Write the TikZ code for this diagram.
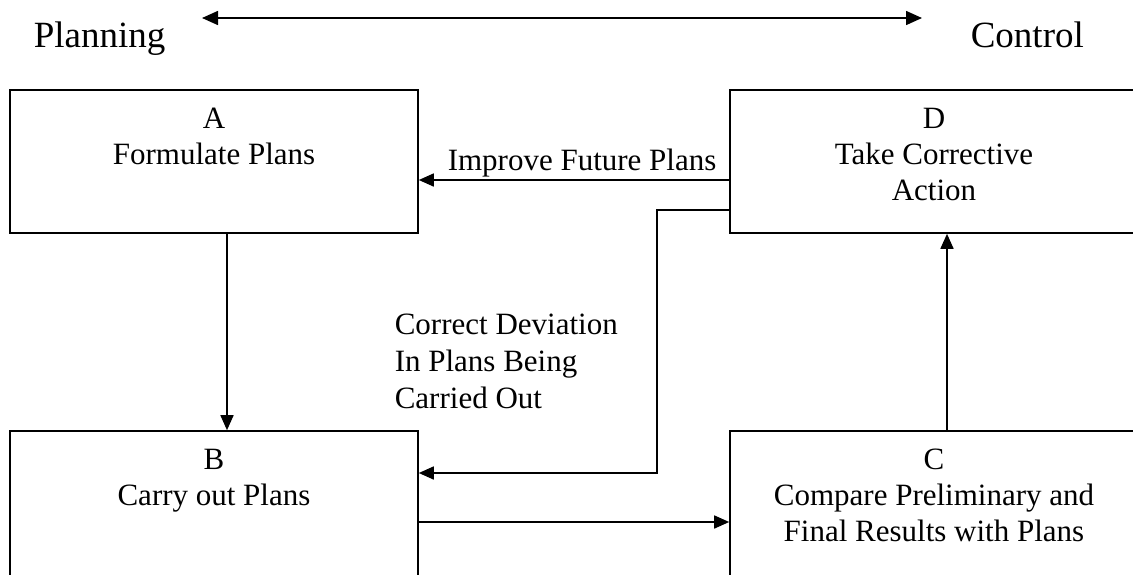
\documentclass[tikz,border=0pt]{standalone}
\usepackage{fontspec}
\setmainfont{Liberation Serif}
\usetikzlibrary{arrows.meta,positioning}

\begin{document}
\begin{tikzpicture}[x=1pt, y=-1pt, line width=1.6pt,
    box/.style={draw, minimum width=408pt, inner sep=0pt},
    boxtext/.style={align=center, inner sep=0pt, font=\fontsize{31}{36}\selectfont},
    head/.style={inner sep=0pt, anchor=base west, font=\fontsize{37}{44}\selectfont},
    arr/.style={-{Triangle[length=15pt, width=13pt]}}]
    \useasboundingbox (0, 0) rectangle (1133, 574);
    \clip (0, 0) rectangle (1133, 574);

    \node (plan) [head] at (33, 47) {Planning};
    \node (ctrl) [head] at (970, 47) {Control};
    \coordinate (left) at (202, 18);
    \coordinate (right) at (922, 18);
    \draw[{Triangle[length=16pt, width=14pt]}-{Triangle[length=16pt, width=14pt]}] (left) -- (right);

    \node (A) [box, minimum height=143pt] at (214, 161.5) {};
    \node (D) [box, minimum height=143pt] at (934, 161.5) {};
    \node (B) [box, minimum height=200pt] at (214, 531) {};
    \node (C) [box, minimum height=200pt] at (934, 531) {};

    \node (Atext) [boxtext, below=18pt of A.north] {A\\Formulate Plans};
    \node (Dtext) [boxtext, below=18pt of D.north] {D\\Take Corrective\\Action};
    \node (Btext) [boxtext, below=18pt of B.north] {B\\Carry out Plans};
    \node (Ctext) [boxtext, below=18pt of C.north] {C\\Compare Preliminary and\\Final Results with Plans};

    \draw[arr] ([xshift=13pt]A.south) -- ([xshift=13pt]B.north);
    \draw[arr] ([yshift=9pt]B.east) -- ([yshift=9pt]C.west);
    \draw[arr] ([xshift=13pt]C.north) -- ([xshift=13pt]D.south);
    \draw[arr] ([yshift=-18.5pt]D.west) -- ([yshift=-18.5pt]A.east)
        node[pos=0, anchor=south east, xshift=-12pt, yshift=2pt, inner sep=0pt,
             font=\fontsize{31}{36}\selectfont] (improve) {Improve Future Plans};
    \draw[arr] ([yshift=-48.5pt]D.west) -- ++(-72, 0) |- ([yshift=58pt]B.east);

    \node (correct) [anchor=north west, align=left, inner sep=0pt,
        font=\fontsize{31}{37}\selectfont] at (394, 313.5) {Correct Deviation\\In Plans Being\\Carried Out};
\end{tikzpicture}
\end{document}
